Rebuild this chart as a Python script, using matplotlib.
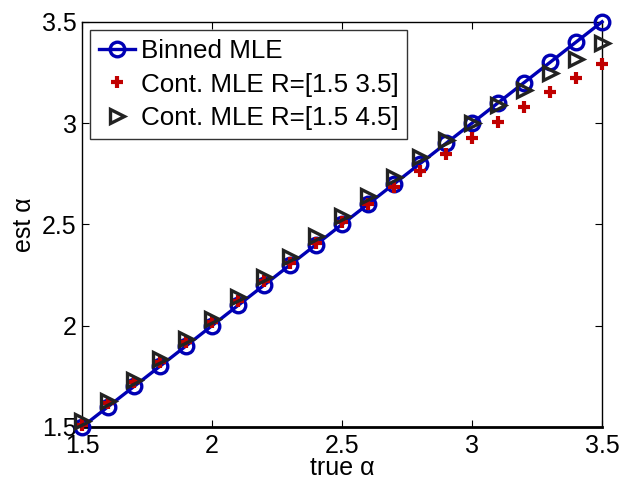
import numpy as np
import matplotlib.pyplot as plt

plt.rcParams["font.family"] = ["Liberation Sans", "DejaVu Sans"]

# 真实 alpha 与三种估计结果
true_alpha = [1.5, 1.6, 1.7, 1.8, 1.9, 2.0, 2.1, 2.2, 2.3, 2.4, 2.5,
              2.6, 2.7, 2.8, 2.9, 3.0, 3.1, 3.2, 3.3, 3.4, 3.5]
binned_mle = [1.5, 1.6, 1.7, 1.8, 1.9, 2.0, 2.1, 2.2, 2.3, 2.4, 2.5,
              2.6, 2.7, 2.8, 2.9, 3.0, 3.1, 3.2, 3.3, 3.4, 3.5]
cont_mle_35 = [1.51, 1.62, 1.72, 1.82, 1.92, 2.02, 2.12, 2.22, 2.31, 2.41, 2.51,
               2.60, 2.685, 2.765, 2.845, 2.925, 3.005, 3.08, 3.155, 3.22, 3.29]
cont_mle_45 = [1.53, 1.63, 1.73, 1.835, 1.935, 2.035, 2.14, 2.24, 2.34, 2.44, 2.54,
               2.64, 2.735, 2.83, 2.915, 3.0, 3.09, 3.165, 3.245, 3.315, 3.395]
ticks = [1.5, 2, 2.5, 3, 3.5]
tick_labels = ["1.5", "2", "2.5", "3", "3.5"]

fig = plt.figure(figsize=(6.22, 4.84), dpi=100)
ax = fig.add_axes([0.132, 0.118, 0.836, 0.837])

ax.plot(true_alpha, binned_mle, "-o", color="#0000b4", lw=2.4, ms=10.5,
        mfc="none", mew=2.4, label="Binned MLE", clip_on=False, zorder=3)
ax.plot(true_alpha, cont_mle_35, "+", color="#c00000", ms=8.5, mew=3,
        label="Cont. MLE R=[1.5 3.5]", clip_on=False, zorder=4)
ax.plot(true_alpha, cont_mle_45, ">", color="#222222", ms=9.5, mfc="none",
        mew=2.4, label="Cont. MLE R=[1.5 4.5]", clip_on=False, zorder=5)

ax.set_xlim(1.5, 3.5)
ax.set_ylim(1.5, 3.5)
ax.set_xticks(ticks)
ax.set_yticks(ticks)
ax.set_xticklabels(tick_labels)
ax.set_yticklabels(tick_labels)
ax.tick_params(direction="in", top=True, right=True, length=5, labelsize=18)
ax.tick_params(axis="x", pad=5)
ax.tick_params(axis="y", pad=4)
for sp in ax.spines.values():
    sp.set_linewidth(1.0)
ax.spines["bottom"].set_linewidth(2.0)
ax.set_xlabel("true α", fontsize=18, labelpad=-1)
ax.set_ylabel("est α", fontsize=18, labelpad=4)

leg = ax.legend(loc="upper left", fontsize=18.7, frameon=True, fancybox=False,
                handlelength=1.4, handletextpad=0.2, borderpad=0.35,
                labelspacing=0.38, borderaxespad=0.3)
leg.get_frame().set_edgecolor("black")
leg.get_frame().set_linewidth(1.0)

fig.savefig("out.png")
